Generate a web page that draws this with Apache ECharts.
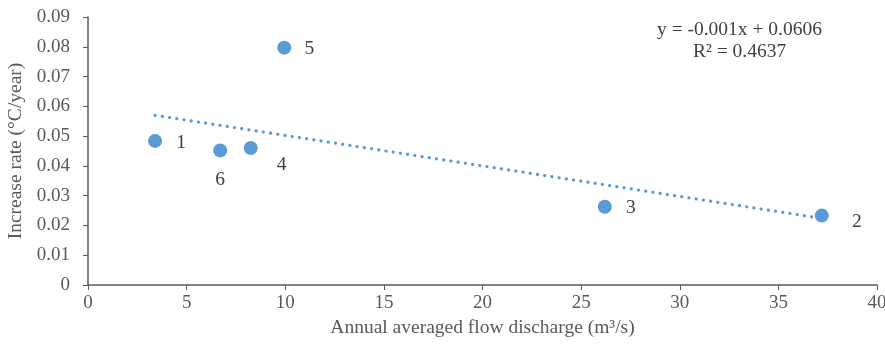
<!DOCTYPE html>
<html>
<head>
<meta charset="utf-8">
<script src="https://cdn.jsdelivr.net/npm/echarts@6/dist/echarts.min.js"></script>
<style>
  html, body { margin: 0; padding: 0; background: #fff; }
  #chart { width: 885px; height: 345px; }
</style>
</head>
<body>
<div id="chart"></div>
<script>
// station numbers and readings
const stations = ['1', '2', '3', '4', '5', '6']
const flow = [3.40, 37.2, 26.2, 8.25, 9.95, 6.7]
const rate = [0.0484, 0.0233, 0.0263, 0.0460, 0.0797, 0.0452]
const eqText = 'y = -0.001x + 0.0606'
const r2Text = 'R² = 0.4637'

// where each number sits next to its dot
const labelOffset = {
  '1': [26, 2], '2': [35, 6], '3': [26, 1],
  '4': [31, 17], '5': [25, 1], '6': [0, 29]
}

// least squares line through the points
const n = flow.length
const mx = flow.reduce((a, b) => a + b, 0) / n
const my = rate.reduce((a, b) => a + b, 0) / n
let sxy = 0, sxx = 0
for (let i = 0; i < n; i++) {
  sxy += (flow[i] - mx) * (rate[i] - my)
  sxx += (flow[i] - mx) * (flow[i] - mx)
}
const slope = sxy / sxx
const icept = my - slope * mx
const xmin = Math.min(...flow), xmax = Math.max(...flow)
const trend = [[xmin, icept + slope * xmin], [xmax, icept + slope * xmax]]

const font = 'Liberation Serif, Times New Roman, serif'
const axisGray = '#595959'
const blue = '#5B9BD5'

const chart = echarts.init(document.getElementById('chart'))
chart.setOption({
  animation: false,
  grid: { left: 88, right: 8, top: 17, bottom: 60, outerBoundsMode: 'none' },
  xAxis: {
    type: 'value', min: 0, max: 40, interval: 5,
    name: 'Annual averaged flow discharge (m³/s)',
    nameLocation: 'middle', nameGap: 33,
    nameTextStyle: { fontFamily: font, fontSize: 19.5, color: '#595959' },
    axisLine: { lineStyle: { color: axisGray, width: 1.5 } },
    axisTick: { show: true, length: 5, lineStyle: { color: axisGray } },
    axisLabel: { fontFamily: font, fontSize: 19, color: '#595959', margin: 9 },
    splitLine: { show: false }
  },
  yAxis: {
    type: 'value', min: 0, max: 0.09, interval: 0.01,
    name: 'Increase rate (°C/year)',
    nameLocation: 'middle', nameGap: 60,
    nameTextStyle: { fontFamily: font, fontSize: 19.5, color: '#595959' },
    axisLine: { show: true, lineStyle: { color: axisGray, width: 1.5 } },
    axisTick: { show: true, length: 5, lineStyle: { color: axisGray } },
    axisLabel: {
      fontFamily: font, fontSize: 19, color: '#595959', margin: 18,
      formatter: v => String(+v.toFixed(2))
    },
    splitLine: { show: false }
  },
  series: [
    {
      type: 'line',
      data: trend,
      symbol: 'none',
      lineStyle: { color: blue, width: 3.2, type: [0.1, 7.2], cap: 'round' },
      z: 2
    },
    {
      type: 'scatter',
      symbolSize: 14,
      itemStyle: { color: blue, opacity: 1 },
      data: stations.map((s, i) => ({
        value: [flow[i], rate[i]],
        name: s,
        label: { offset: labelOffset[s] }
      })),
      label: {
        show: true, position: 'inside',
        formatter: p => p.name,
        fontFamily: font, fontSize: 19.5, color: '#404040'
      },
      z: 3
    }
  ],
  graphic: [
    {
      type: 'text', left: 657, top: 20,
      style: { text: eqText, font: '19.5px ' + font, fill: '#404040' }
    },
    {
      type: 'text', left: 693, top: 42,
      style: { text: r2Text, font: '19.5px ' + font, fill: '#404040' }
    }
  ]
})
</script>
</body>
</html>
